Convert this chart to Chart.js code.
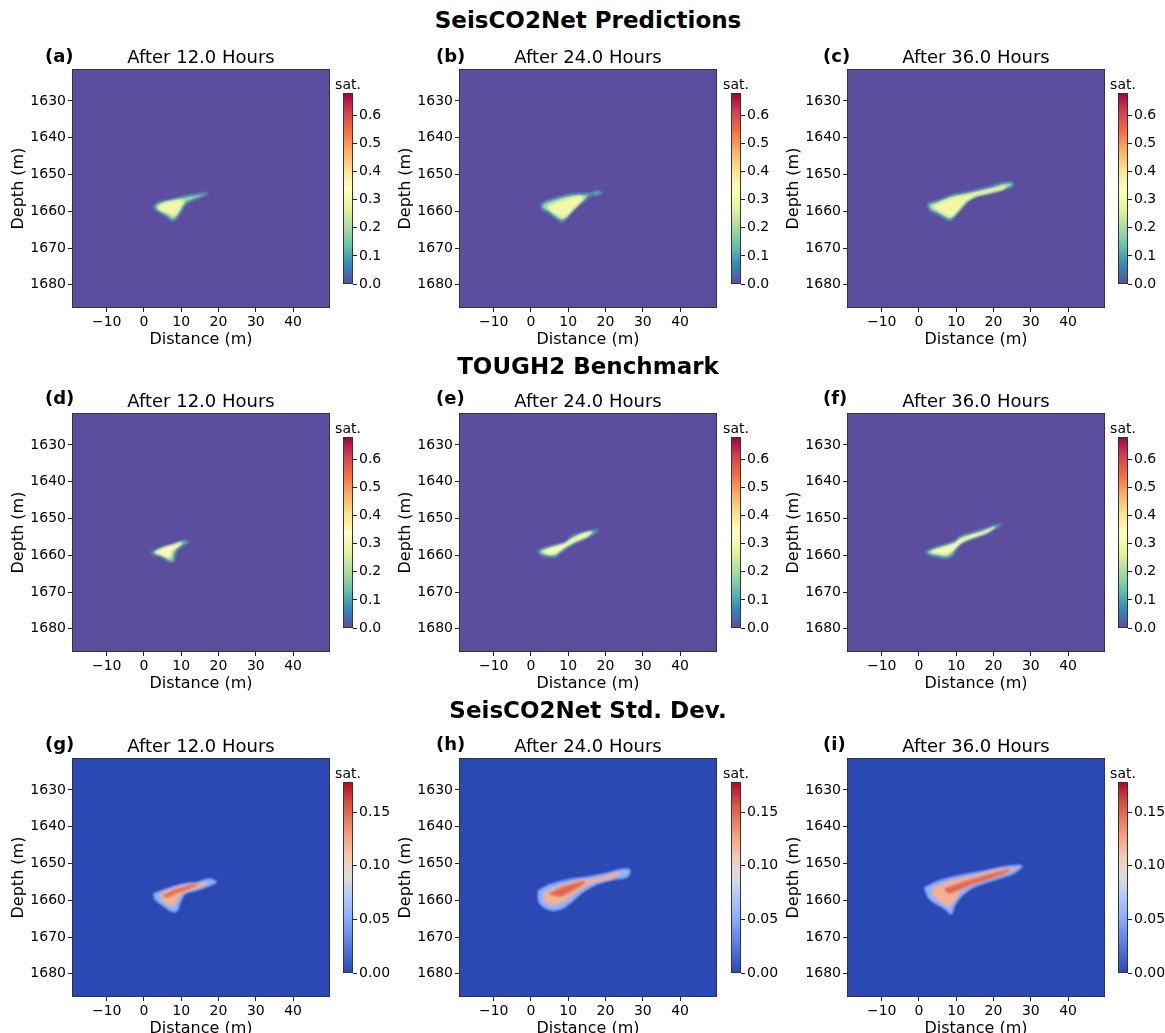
<!DOCTYPE html>
<html lang="en">
<head>
<meta charset="UTF-8">
<title>SeisCO2Net plume maps</title>
<script src="https://cdn.jsdelivr.net/npm/chart.js"></script>
<style>
  body { margin: 0; background: #fff; font-family: "DejaVu Sans", sans-serif; }
  #fig { position: relative; width: 1165px; height: 1033px; overflow: hidden; }
  #fig canvas { position: absolute; }
  .sup { position: absolute; font-weight: bold; font-size: 23px; transform: translate(-50%, -50%); white-space: nowrap; }
  .tag { position: absolute; font-weight: bold; font-size: 18px; transform: translateY(-50%); }
  .cbl { position: absolute; font-size: 14px; transform: translate(-50%, -50%); }
</style>
</head>
<body>
<div id="fig"></div>
<script>
// ---- figure text ----
const rowTitles = ['SeisCO2Net Predictions', 'TOUGH2 Benchmark', 'SeisCO2Net Std. Dev.'];
const tags = ['(a)', '(b)', '(c)', '(d)', '(e)', '(f)', '(g)', '(h)', '(i)'];
const hours = [12.0, 24.0, 36.0];

// ---- axes ----
const xRange = [-19.3, 49.9];
const yRange = [1621.3, 1686.3];
const xTicks = [-10, 0, 10, 20, 30, 40];
const yTicks = [1630, 1640, 1650, 1660, 1670, 1680];
const satMax = 0.68;
const satTicks = [0.0, 0.1, 0.2, 0.3, 0.4, 0.5, 0.6];
const stdMax = 0.178;
const stdTicks = [0.00, 0.05, 0.10, 0.15];

// ---- saturation levels of the plume contours ----
const satRim = 0.05, satEdge = 0.19, satCore = 0.30, satCoreTough = 0.35;
const stdEdge = 0.055, stdMid = 0.12, stdCore = 0.15;

// ---- plume outlines [distance, depth] ----
const predA_edge = [[2.7,1658.7],[3.8,1657.6],[7.0,1656.9],[10.6,1656.0],[13.3,1655.5],[15.9,1655.1],[17.1,1655.2],[15.5,1656.0],[12.4,1657.3],[11.0,1658.2],[9.7,1660.5],[8.3,1662.3],[7.4,1662.5],[6.1,1661.4],[3.4,1659.8]];
const predA_core = [[3.8,1658.7],[5.2,1657.8],[7.4,1657.3],[9.7,1656.9],[10.6,1657.3],[9.7,1659.1],[8.3,1661.0],[6.5,1660.5],[4.3,1659.6]];
const predB_edge = [[2.7,1658.2],[4.1,1657.3],[7.7,1656.1],[11.2,1655.3],[14.8,1655.2],[16.2,1655.1],[17.5,1654.6],[19.0,1654.8],[18.0,1655.5],[15.7,1655.8],[14.4,1657.3],[12.2,1658.7],[10.3,1661.0],[8.5,1662.8],[7.2,1662.3],[5.0,1660.5],[3.0,1659.4]];
const predB_core = [[4.5,1658.5],[6.8,1657.6],[9.5,1656.7],[12.6,1656.0],[13.9,1656.1],[13.0,1657.8],[11.2,1659.6],[9.0,1661.6],[7.2,1661.0],[5.0,1659.6]];
const predC_edge = [[2.4,1657.8],[5.5,1656.9],[9.1,1655.5],[12.7,1654.9],[16.3,1654.0],[19.8,1653.1],[22.5,1652.3],[25.2,1652.2],[24.8,1653.4],[21.6,1654.3],[19.0,1655.1],[15.8,1655.8],[13.6,1656.9],[11.8,1658.7],[9.5,1661.4],[8.2,1662.5],[5.5,1661.0],[2.8,1659.6]];
const predC_core = [[3.7,1658.7],[6.4,1657.3],[10.0,1656.1],[13.6,1655.3],[17.2,1654.6],[20.8,1653.7],[23.4,1653.1],[22.5,1654.0],[19.0,1654.9],[15.4,1655.8],[12.7,1657.3],[10.4,1660.0],[8.7,1661.4],[5.5,1660.0]];

const toughD_edge = [[1.8,1659.2],[4.3,1658.1],[7.9,1656.9],[11.0,1656.0],[11.9,1656.3],[10.6,1657.2],[8.8,1658.6],[8.3,1660.4],[7.9,1661.7],[6.5,1661.7],[4.8,1660.4],[2.5,1659.7]];
const toughD_core = [[3.0,1659.1],[5.2,1658.0],[7.9,1657.2],[10.1,1656.5],[8.8,1657.8],[7.4,1659.0],[7.0,1660.5],[5.6,1660.2],[3.8,1659.6]];
const toughE_edge = [[1.8,1659.0],[3.2,1658.1],[6.8,1657.2],[9.5,1656.3],[10.8,1654.9],[13.0,1654.0],[15.7,1653.4],[18.0,1653.1],[17.1,1654.0],[14.8,1655.4],[12.6,1656.3],[10.3,1657.6],[7.7,1659.4],[6.8,1660.4],[5.0,1660.4],[2.7,1659.9]];
const toughE_core = [[3.2,1659.0],[5.9,1657.8],[9.0,1656.9],[10.8,1655.8],[13.5,1654.4],[16.2,1653.7],[14.8,1654.9],[12.2,1656.0],[9.5,1657.4],[6.8,1659.3],[4.5,1659.6]];
const toughF_edge = [[1.7,1659.0],[3.7,1658.1],[7.3,1657.0],[10.0,1656.0],[10.9,1654.9],[14.5,1653.8],[18.1,1652.6],[22.1,1651.4],[21.2,1652.3],[17.2,1654.5],[13.6,1655.8],[10.9,1657.2],[9.1,1659.9],[7.3,1660.8],[5.1,1660.4],[2.8,1659.9]];
const toughF_core = [[3.3,1659.0],[6.4,1657.9],[9.5,1656.9],[10.9,1655.8],[14.0,1654.7],[17.6,1653.6],[20.3,1652.3],[18.1,1653.8],[14.5,1655.0],[11.3,1656.5],[9.1,1658.5],[7.3,1659.6],[4.6,1659.4]];

const stdG_edge = [[2.7,1658.2],[4.3,1657.6],[7.9,1656.3],[11.5,1655.4],[14.2,1655.2],[17.3,1654.2],[19.4,1655.0],[17.3,1656.1],[14.2,1657.2],[11.0,1658.2],[9.7,1660.6],[8.8,1662.9],[7.4,1663.0],[5.2,1661.5],[3.0,1659.7]];
const stdG_mid = [[4.3,1658.3],[7.0,1657.2],[10.6,1656.0],[14.2,1655.6],[16.8,1655.2],[15.1,1656.3],[11.5,1657.4],[9.7,1658.5],[8.3,1661.0],[7.0,1661.5],[5.2,1660.1]];
const stdG_core = [[5.2,1658.8],[7.9,1657.4],[11.5,1656.3],[14.2,1655.6],[11.5,1657.0],[8.8,1657.9],[6.5,1659.0]];
const stdH_edge = [[2.0,1657.4],[5.0,1655.8],[10.3,1654.4],[15.7,1653.6],[19.8,1652.8],[23.8,1651.7],[26.5,1651.7],[25.9,1653.6],[21.6,1654.4],[17.9,1655.5],[14.4,1657.4],[11.2,1660.1],[8.2,1662.3],[5.0,1662.6],[2.3,1660.7]];
const stdH_mid = [[3.6,1658.0],[7.7,1656.1],[13.0,1654.7],[17.1,1654.2],[21.1,1653.1],[24.3,1652.5],[21.1,1654.2],[16.3,1655.2],[12.5,1657.4],[9.0,1660.1],[5.8,1661.2],[3.6,1659.9]];
const stdH_core = [[5.0,1658.2],[9.0,1656.3],[14.4,1655.0],[11.7,1656.9],[7.7,1658.8]];
const stdI_edge = [[1.5,1656.6],[5.5,1654.7],[10.9,1653.3],[17.6,1652.0],[23.0,1650.9],[27.6,1650.6],[25.7,1652.5],[20.3,1654.4],[14.9,1656.3],[11.4,1658.8],[9.5,1661.5],[8.7,1663.7],[6.9,1662.3],[2.8,1659.6]];
const stdI_mid = [[3.4,1656.9],[8.2,1654.9],[14.9,1653.3],[21.6,1651.7],[25.7,1651.4],[21.6,1653.1],[15.8,1655.0],[11.4,1657.1],[9.5,1660.1],[7.7,1661.5],[4.2,1659.0]];
const stdI_core = [[6.9,1656.9],[12.2,1655.0],[18.9,1653.1],[24.3,1651.7],[20.3,1653.6],[13.6,1655.8],[8.2,1658.0]];

// ---- layout (px) ----
const colLeft = [72, 459, 847];
const rowTop = [69, 413, 758];
const plotW = 258, plotH = 239;
const cbLeft = [343, 731, 1118];
const cbTop = [93, 437, 782];
const cbH = 191;
const supY = [20, 366, 710];
const tagX = [45, 436, 823];
const tagY = [55, 397, 743];

// ---- colormaps ----
const spectralR = [[92,77,158],[50,136,189],[102,194,165],[171,221,164],[230,245,152],[255,255,191],[254,224,139],[253,174,97],[244,109,67],[213,62,79],[158,1,66]];
const coolwarm = [[43,72,180],[74,106,214],[106,140,237],[144,178,254],[175,202,252],[221,221,221],[241,204,184],[245,168,137],[233,122,96],[210,76,64],[180,4,38]];

function cmap(stops, t) {
  t = Math.max(0, Math.min(1, t));
  const f = t * (stops.length - 1);
  const i = Math.min(Math.floor(f), stops.length - 2);
  const w = f - i;
  const c = stops[i].map((v, k) => Math.round(v + (stops[i + 1][k] - v) * w));
  return `rgb(${c[0]},${c[1]},${c[2]})`;
}

Chart.defaults.font.family = 'DejaVu Sans';
Chart.defaults.color = '#000';

const fig = document.getElementById('fig');

function addCanvas(left, top, w, h) {
  const c = document.createElement('canvas');
  c.width = w; c.height = h;
  c.style.left = left + 'px'; c.style.top = top + 'px';
  c.style.width = w + 'px'; c.style.height = h + 'px';
  fig.appendChild(c);
  return c;
}

function addText(cls, text, x, y) {
  const d = document.createElement('div');
  d.className = cls;
  d.textContent = text;
  d.style.left = x + 'px'; d.style.top = y + 'px';
  fig.appendChild(d);
}

function fmtTick(v) {
  return v < 0 ? '\u2212' + Math.abs(v) : String(v);
}

function strokeFrame(chart) {
  const { ctx, chartArea: a } = chart;
  ctx.save();
  ctx.strokeStyle = '#333';
  ctx.lineWidth = 1;
  ctx.strokeRect(a.left + 0.5, a.top + 0.5, a.width - 1, a.height - 1);
  ctx.restore();
}

// fills the plot background with the zero colour, softens the contours, draws the frame
const heatBg = {
  id: 'heatBg',
  beforeDatasetsDraw(chart, args, opts) {
    const { ctx, chartArea: a } = chart;
    ctx.save();
    ctx.fillStyle = opts.color;
    ctx.fillRect(a.left, a.top, a.width, a.height);
    ctx.beginPath();
    ctx.rect(a.left, a.top, a.width, a.height);
    ctx.clip();
    ctx.filter = 'blur(' + opts.blur + 'px)';
  },
  afterDatasetsDraw(chart) {
    chart.ctx.restore();
    strokeFrame(chart);
  }
};

const frame = { id: 'frame', afterDatasetsDraw: strokeFrame };

function closed(pts) {
  const d = pts.map(p => ({ x: p[0], y: p[1] }));
  d.push({ x: pts[0][0], y: pts[0][1] });
  return d;
}

function drawPanel(row, col, levels, stops, vmax) {
  const cv = addCanvas(colLeft[col] - 72, rowTop[row] - 32, 72 + plotW + 8, 32 + plotH + 50);
  const datasets = levels.map((lv, i) => ({
    data: closed(lv.pts),
    showLine: true,
    fill: 'shape',
    tension: 0.3,
    pointRadius: 0,
    backgroundColor: cmap(stops, lv.value / vmax),
    borderColor: cmap(stops, (lv.rim !== undefined ? lv.rim : lv.value) / vmax),
    borderWidth: lv.rim !== undefined ? 1.6 : 1,
    order: levels.length - i
  }));
  new Chart(cv, {
    type: 'scatter',
    data: { datasets },
    options: {
      responsive: false,
      animation: false,
      devicePixelRatio: 1,
      layout: { padding: { right: 8 } },
      plugins: {
        legend: { display: false },
        tooltip: { enabled: false },
        title: {
          display: true,
          fullSize: false,
          text: 'After ' + hours[col].toFixed(1) + ' Hours',
          font: { size: 18, weight: 'normal' },
          color: '#000',
          padding: { top: 10.4, bottom: 0 }
        },
        heatBg: { color: cmap(stops, 0), blur: 1.1 }
      },
      scales: {
        x: {
          type: 'linear',
          min: xRange[0], max: xRange[1],
          afterBuildTicks: s => { s.ticks = xTicks.map(v => ({ value: v })); },
          afterFit: s => { s.height = 50; },
          grid: { drawOnChartArea: false, drawTicks: true, tickLength: 4, color: '#222' },
          border: { display: false },
          ticks: { font: { size: 14 }, color: '#000', padding: 2, maxRotation: 0, callback: fmtTick },
          title: { display: true, text: 'Distance (m)', font: { size: 16 }, color: '#000', padding: { top: 0, bottom: 9 } }
        },
        y: {
          type: 'linear',
          reverse: true,
          min: yRange[0], max: yRange[1],
          afterBuildTicks: s => { s.ticks = yTicks.map(v => ({ value: v })); },
          afterFit: s => { s.width = 72; },
          grid: { drawOnChartArea: false, drawTicks: true, tickLength: 4, color: '#222' },
          border: { display: false },
          ticks: { font: { size: 14 }, color: '#000', padding: 2, callback: fmtTick },
          title: { display: true, text: 'Depth (m)', font: { size: 16 }, color: '#000', padding: { top: 9, bottom: 0 } }
        }
      }
    },
    plugins: [heatBg]
  });
}

function drawColorbar(row, col, stops, vmax, ticks, digits) {
  const cv = addCanvas(cbLeft[col], cbTop[row] - 12, 10 + 45, cbH + 24);
  new Chart(cv, {
    type: 'bar',
    data: {
      labels: [''],
      datasets: [{
        data: [vmax],
        barPercentage: 1,
        categoryPercentage: 1,
        borderWidth: 0,
        backgroundColor: c => {
          const a = c.chart.chartArea;
          if (!a) return cmap(stops, 0.5);
          const g = c.chart.ctx.createLinearGradient(0, a.bottom, 0, a.top);
          for (let i = 0; i <= 40; i++) g.addColorStop(i / 40, cmap(stops, i / 40));
          return g;
        }
      }]
    },
    options: {
      responsive: false,
      animation: false,
      devicePixelRatio: 1,
      layout: { padding: { top: 12, bottom: 12, left: 0, right: 0 } },
      plugins: { legend: { display: false }, tooltip: { enabled: false } },
      scales: {
        x: { display: false },
        y: {
          position: 'right',
          min: 0, max: vmax,
          afterBuildTicks: s => { s.ticks = ticks.map(v => ({ value: v })); },
          afterFit: s => { s.width = 45; },
          grid: { drawOnChartArea: false, drawTicks: true, tickLength: 4, color: '#222' },
          border: { display: false },
          ticks: { font: { size: 14 }, color: '#000', padding: 2, callback: v => v.toFixed(digits) }
        }
      }
    },
    plugins: [frame]
  });
  addText('cbl', 'sat.', cbLeft[col] + 5, cbTop[row] - 9);
}

// ---- panels ----
const panelLevels = [
  [{ pts: predA_edge, value: satEdge, rim: satRim }, { pts: predA_core, value: satCore }],
  [{ pts: predB_edge, value: satEdge, rim: satRim }, { pts: predB_core, value: satCore }],
  [{ pts: predC_edge, value: satEdge, rim: satRim }, { pts: predC_core, value: satCore }],
  [{ pts: toughD_edge, value: satEdge, rim: satRim }, { pts: toughD_core, value: satCoreTough }],
  [{ pts: toughE_edge, value: satEdge, rim: satRim }, { pts: toughE_core, value: satCoreTough }],
  [{ pts: toughF_edge, value: satEdge, rim: satRim }, { pts: toughF_core, value: satCoreTough }],
  [{ pts: stdG_edge, value: stdEdge }, { pts: stdG_mid, value: stdMid }, { pts: stdG_core, value: stdCore }],
  [{ pts: stdH_edge, value: stdEdge }, { pts: stdH_mid, value: stdMid }, { pts: stdH_core, value: stdCore }],
  [{ pts: stdI_edge, value: stdEdge }, { pts: stdI_mid, value: stdMid }, { pts: stdI_core, value: stdCore }]
];

for (let row = 0; row < 3; row++) {
  addText('sup', rowTitles[row], 588, supY[row]);
  const isStd = row === 2;
  const stops = isStd ? coolwarm : spectralR;
  const vmax = isStd ? stdMax : satMax;
  for (let col = 0; col < 3; col++) {
    const k = row * 3 + col;
    drawPanel(row, col, panelLevels[k], stops, vmax);
    drawColorbar(row, col, stops, vmax, isStd ? stdTicks : satTicks, isStd ? 2 : 1);
    addText('tag', tags[k], tagX[col], tagY[row]);
  }
}
</script>
</body>
</html>
